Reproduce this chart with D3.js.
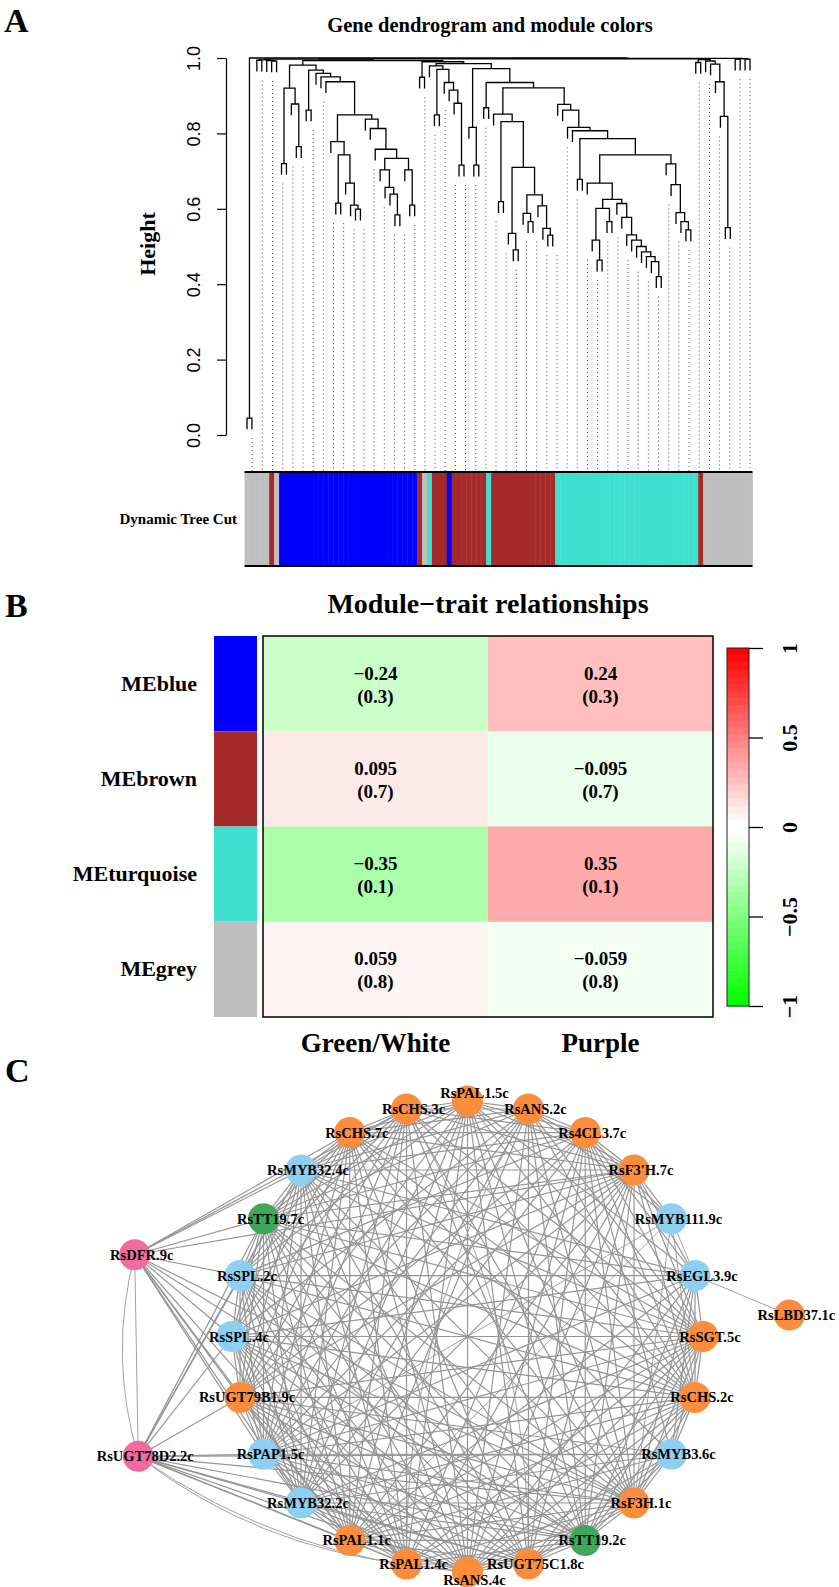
<!DOCTYPE html>
<meta charset="utf-8">
<script src="https://d3js.org/d3.v7.min.js"></script>
<style>
  body { margin: 0; background: #fff; }
  svg { display: block; }
  .serif { font-family: "Liberation Serif", "Times New Roman", serif; font-weight: bold; }
  .sans { font-family: "Liberation Sans", Arial, sans-serif; }
</style>
<body>
<div id="fig"></div>
<script>
const W = 839, H = 1587;

// ---------------- A: gene dendrogram ----------------
// internal node = [merge height, left, right]; leaf = module code
// g grey, b blue, r brown, t turquoise
const firstPair = [0.045, "g", "g"];
const topLeftLeaves = [0.995, [0.994, "g", "g"], [0.993, "g", [0.992, "r", "g"]]];
const blueBranch = [0.981,
  [0.92, [0.72, "b", "b"], [0.878, "b", [0.765, "b", "b"]]],
  [0.968, [0.862, "b", "b"],
    [0.959, "b",
      [0.95, "b",
        [0.937, "b",
          [0.849,
            [0.778, "b",
              [0.743, [0.615, "b", "b"],
                [0.668, "b", [0.61, "b", [0.599, "b", "b"]]]]],
            [0.838, "b",
              [0.813, "b",
                [0.758, "b",
                  [0.734,
                    [0.703, "b", [0.657, "b", [0.639, "b", [0.584, "b", "b"]]]],
                    [0.703, "b", [0.61, "b", "b"]]]]]]]]]]]];
const smallPair = [0.949, "r", "g"];
const mixedBranch = [0.979, "t",
  [0.97, [0.849, "r", "r"],
    [0.935, "r",
      [0.915, "b",
        [0.88, "r", [0.716, "r", "r"]]]]]];
const brownBranch = [0.851, "r",
  [0.831, [0.619, "r", "r"],
    [0.71,
      [0.535, "r", [0.491, "r", "r"]],
      [0.637,
        [0.588, "r", [0.566, "r", "r"]],
        [0.608, "r", [0.548, "r", [0.53, "r", "r"]]]]]]];
const turquoiseBranch = [0.877, "t",
  [0.862, "t",
    [0.816, "t",
      [0.807, "t",
        [0.786, [0.678, "t", "t"],
          [0.743,
            [0.668, "t",
              [0.625,
                [0.601, [0.517, "t", [0.464, "t", "t"]], [0.566, "t", "t"]],
                [0.614, "t", [0.577, "t", [0.531, "t", [0.517, "t", [0.5, "t",
                  [0.486, "t", [0.473, "t", [0.46, "t", [0.42, "t", "t"]]]]]]]]]]],
            [0.719, "t", [0.664, "t", [0.59, "t", [0.566, "t", [0.544, "t", "t"]]]]]]]]]]];
const middleBranch = [0.972,
  [0.816, "r", [0.716, "r", "r"]],
  [0.935, [0.868, "r", "t"], [0.921, brownBranch, turquoiseBranch]]];
const rightPair = [0.988, "t", "r"];
const rightChain = [0.984, "g", [0.937, "g", [0.845, "g", [0.55, "g", "g"]]]];
const lastFour = [0.998, [0.997, "g", "g"], [0.997, "g", "g"]];

const geneTree = [1.0, firstPair,
  [0.999,
    [0.998,
      [0.997, topLeftLeaves,
        [0.993, blueBranch, [0.99, smallPair, [0.985, mixedBranch, middleBranch]]]],
      [0.996, rightPair, [0.992, "g", rightChain]]],
    lastFour]];

const moduleColor = { g: "#BEBEBE", b: "#0000FF", r: "#A52A2A", t: "#40E0D0" };
const heightTicks = [0, 0.2, 0.4, 0.6, 0.8, 1.0];

// ---------------- B: module-trait heatmap ----------------
const modules = ["MEblue", "MEbrown", "MEturquoise", "MEgrey"];
const moduleFill = ["#0000FF", "#A52A2A", "#40E0D0", "#BEBEBE"];
const traits = ["Green/White", "Purple"];
const corValues = [[-0.24, 0.24], [0.095, -0.095], [-0.35, 0.35], [0.059, -0.059]];
const pValues = [[0.3, 0.3], [0.7, 0.7], [0.1, 0.1], [0.8, 0.8]];
const legendTicks = [-1, -0.5, 0, 0.5, 1];

// ---------------- C: co-expression network ----------------
const ringGenes = ["RsPAL1.5c", "RsANS.2c", "Rs4CL3.7c", "RsF3'H.7c", "RsMYB111.9c", "RsEGL3.9c",
  "RsSGT.5c", "RsCHS.2c", "RsMYB3.6c", "RsF3H.1c", "RsTT19.2c", "RsUGT75C1.8c",
  "RsANS.4c", "RsPAL1.4c", "RsPAL1.1c", "RsMYB32.2c", "RsPAP1.5c", "RsUGT79B1.9c",
  "RsSPL.4c", "RsSPL.2c", "RsTT19.7c", "RsMYB32.4c", "RsCHS.7c", "RsCHS.3c"];
const ringGroup = ["o", "o", "o", "o", "m", "m", "o", "o", "m", "o", "n", "o",
  "o", "o", "o", "m", "m", "o", "m", "m", "n", "m", "o", "o"];
// genes placed outside the ring: name, group, angle (deg, clockwise from top), radius factor
const outerGenes = [["RsDFR.9c", "p", 283.8, 1.455], ["RsUGT78D2.2c", "p", 250, 1.488], ["RsLBD37.1c", "o", 86.2, 1.37]];
const groupFill = { o: "#FC8D3C", m: "#8CCFF2", n: "#3DA85A", p: "#F26BA0" };

// neighbours of each gene (index > own index, ring order then DFR=24, UGT78D2=25, LBD37=26)
const links = [
  [0, [1,2,3,5,6,7,9,10,11,12,13,14,15,16,17,19,20,21,22,23]],
  [1, [2,3,4,6,7,9,10,11,12,14,15,16,17,18,20,21,22,23]],
  [2, [3,4,5,6,7,8,9,10,11,12,13,15,16,17,19,20,21,22,23]],
  [3, [4,5,6,7,9,10,11,12,13,14,15,16,17,18,19,20,21,22,23,24]],
  [4, [5,7,9,14,16]],
  [5, [6,7,8,9,10,12,14,16,18,19,20,21,26]],
  [6, [7,8,9,10,11,12,13,14,15,16,17,18,19,20,21,22,23]],
  [7, [8,9,10,11,12,13,14,15,16,17,18,19,20,21,22,23]],
  [8, [9,10,11,12,14,15,16,17,22,25]],
  [9, [10,11,12,13,14,15,16,17,18,19,20,21,22,23,24,25]],
  [10, [11,12,13,14,15,16,17,18,19,20,21,23,24,25]],
  [11, [12,13,14,15,16,17,18,19,20,21,22,25]],
  [12, [13,14,15,16,17,18,19,20,21,22,23,25]],
  [13, [14,15,16,17,18,19,20,21,22,23,24,25]],
  [14, [15,16,17,18,19,20,21,22,23,24,25]],
  [15, [16,17,18,19,20,21,22,23,24,25]],
  [16, [17,18,19,20,21,22,23,24,25]],
  [17, [18,19,20,21,22,23,24,25]],
  [18, [19,20,21,22,23,24,25]],
  [19, [20,21,22,23,24,25]],
  [20, [21,22,23,24,25]],
  [21, [22,23,24,25]],
  [22, [23,24]],
  [23, [24]],
  [24, [25]]
];
// second (curved) edges between the same pair
const curvedLinks = [[24, 25], [25, 13], [25, 12], [1, 13], [11, 23]];

// =====================================================
const svg = d3.select("#fig").append("svg").attr("width", W).attr("height", H);
const serif = "serif";

function panelLetter(t, x, y) {
  svg.append("text").attr("class", serif).attr("x", x).attr("y", y)
    .attr("font-size", 34).text(t);
}

// ---------- Panel A ----------
panelLetter("A", 4, 32);
svg.append("text").attr("class", serif).attr("x", 490).attr("y", 32)
  .attr("text-anchor", "middle").attr("font-size", 20.5).text("Gene dendrogram and module colors");

const hang = 0.03, guideHang = 0.053;
const leafList = [], merges = [];
let leafCount = 0;
function walk(node, parentH) {
  if (typeof node === "string") {
    leafList.push({ code: node, parentH: parentH });
    return { x: leafCount++, h: parentH - hang };
  }
  const a = walk(node[1], node[0]), b = walk(node[2], node[0]);
  merges.push({ h: node[0], a: a, b: b });
  return { x: (a.x + b.x) / 2, h: node[0] };
}
walk(geneTree, 1);

const xLeaf = d3.scaleLinear().domain([0, leafCount - 1]).range([247, 750]);
const yH = d3.scaleLinear().domain([0, 1]).range([435, 58]);
const barTop = 472, barBottom = 566;

// guide lines (50, evenly spaced)
const gGuide = svg.append("g");
d3.range(1, 51).forEach(function(k) {
  const p = k * leafCount / 50;
  const f = Math.max(1, Math.floor(p)), c = Math.min(leafCount, Math.ceil(p));
  const top = Math.min(leafList[f - 1].parentH, leafList[c - 1].parentH) - guideHang;
  gGuide.append("line")
    .attr("x1", xLeaf(p - 1)).attr("x2", xLeaf(p - 1))
    .attr("y1", yH(top)).attr("y2", barTop - 1)
    .attr("stroke", "#4d4d4d").attr("stroke-width", 1).attr("stroke-dasharray", "1,3");
});

svg.append("g").selectAll("path").data(merges).enter().append("path")
  .attr("d", function(m) {
    return "M" + xLeaf(m.a.x) + "," + yH(m.a.h) + "V" + yH(m.h) + "H" + xLeaf(m.b.x) + "V" + yH(m.b.h);
  })
  .attr("fill", "none").attr("stroke", "#000").attr("stroke-width", 1.3);

const yAxis = d3.axisLeft(yH).tickValues(heightTicks).tickFormat(d3.format(".1f"))
  .tickSize(9).tickSizeOuter(0);
const gAxis = svg.append("g").attr("transform", "translate(226,0)").call(yAxis);
gAxis.select(".domain").attr("stroke-width", 1.2);
gAxis.selectAll(".tick line").attr("stroke-width", 1.2);
gAxis.selectAll(".tick text").attr("class", "sans").attr("font-size", 18)
  .attr("transform", "rotate(-90)").attr("x", 0).attr("y", -26).attr("dy", 0)
  .attr("text-anchor", "middle").attr("fill", "#000");

svg.append("text").attr("class", serif).attr("font-size", 22)
  .attr("transform", "translate(155,244) rotate(-90)").attr("text-anchor", "middle").text("Height");

// module colour bar
const step = xLeaf(1) - xLeaf(0);
svg.append("g").selectAll("rect").data(leafList).enter().append("rect")
  .attr("x", function(d, i) { return xLeaf(i) - step / 2; })
  .attr("width", step + 0.4)
  .attr("y", barTop).attr("height", barBottom - barTop)
  .attr("fill", function(d) { return moduleColor[d.code]; });
[barTop, barBottom].forEach(function(yy) {
  svg.append("line").attr("x1", xLeaf(-0.5)).attr("x2", xLeaf(leafCount - 0.5))
    .attr("y1", yy).attr("y2", yy).attr("stroke", "#000").attr("stroke-width", 2);
});
svg.append("text").attr("class", serif).attr("x", 237).attr("y", 524)
  .attr("text-anchor", "end").attr("font-size", 15).text("Dynamic Tree Cut");

// ---------- Panel B ----------
panelLetter("B", 5, 617);
svg.append("text").attr("class", serif).attr("x", 488).attr("y", 613)
  .attr("text-anchor", "middle").attr("font-size", 28).text("Module\u2212trait relationships");

const xT = d3.scaleBand().domain(traits).range([263, 713]);
const yM = d3.scaleBand().domain(modules).range([636, 1017]);

const pal = d3.range(50).map(function(k) {
  if (k < 25) { const v = k / 24; return d3.rgb(v * 255, 255, v * 255).formatHex(); }
  const v = 1 - (k - 25) / 24; return d3.rgb(255, v * 255, v * 255).formatHex();
});
const corColor = d3.scaleQuantize().domain([-1, 1]).range(pal);

svg.append("g").selectAll("rect").data(modules).enter().append("rect")
  .attr("x", 214).attr("width", 43)
  .attr("y", function(m) { return yM(m); }).attr("height", yM.bandwidth())
  .attr("fill", function(m, i) { return moduleFill[i]; });

const cells = [];
modules.forEach(function(m, i) {
  traits.forEach(function(t, j) { cells.push({ m: m, t: t, r: corValues[i][j], p: pValues[i][j] }); });
});
const gCell = svg.append("g").selectAll("g").data(cells).enter().append("g");
gCell.append("rect")
  .attr("x", function(d) { return xT(d.t); }).attr("width", xT.bandwidth() + 0.5)
  .attr("y", function(d) { return yM(d.m); }).attr("height", yM.bandwidth() + 0.5)
  .attr("fill", function(d) { return corColor(d.r); });
const fmtR = function(v) { return (v < 0 ? "\u2212" : "") + Math.abs(v); };
gCell.append("text").attr("class", serif).attr("font-size", 19).attr("text-anchor", "middle")
  .attr("x", function(d) { return xT(d.t) + xT.bandwidth() / 2; })
  .attr("y", function(d) { return yM(d.m) + yM.bandwidth() / 2 - 4; })
  .text(function(d) { return fmtR(d.r); });
gCell.append("text").attr("class", serif).attr("font-size", 19).attr("text-anchor", "middle")
  .attr("x", function(d) { return xT(d.t) + xT.bandwidth() / 2; })
  .attr("y", function(d) { return yM(d.m) + yM.bandwidth() / 2 + 19; })
  .text(function(d) { return "(" + d.p + ")"; });

svg.append("rect").attr("x", 263).attr("y", 636).attr("width", 450).attr("height", 381)
  .attr("fill", "none").attr("stroke", "#000").attr("stroke-width", 1.5);

svg.append("g").selectAll("text").data(modules).enter().append("text")
  .attr("class", serif).attr("font-size", 22).attr("text-anchor", "end")
  .attr("x", 197).attr("y", function(m) { return yM(m) + yM.bandwidth() / 2 + 7; })
  .text(function(m) { return m; });
svg.append("g").selectAll("text").data(traits).enter().append("text")
  .attr("class", serif).attr("font-size", 27).attr("text-anchor", "middle")
  .attr("x", function(t) { return xT(t) + xT.bandwidth() / 2; }).attr("y", 1052)
  .text(function(t) { return t; });

// colour legend
const yLeg = d3.scaleLinear().domain([-1, 1]).range([1006, 648]);
const legStep = (yLeg(-1) - yLeg(1)) / pal.length;
svg.append("g").selectAll("rect").data(pal).enter().append("rect")
  .attr("x", 727).attr("width", 22)
  .attr("y", function(c, k) { return yLeg(-1) - (k + 1) * legStep; })
  .attr("height", legStep + 0.5).attr("fill", function(c) { return c; });
svg.append("rect").attr("x", 727).attr("y", 648).attr("width", 22).attr("height", 358)
  .attr("fill", "none").attr("stroke", "#222").attr("stroke-width", 1);
const legAxis = d3.axisRight(yLeg).tickValues(legendTicks).tickFormat(d3.format("")).tickSize(14);
const gLeg = svg.append("g").attr("transform", "translate(749,0)").call(legAxis);
gLeg.select(".domain").remove();
gLeg.selectAll(".tick line").attr("stroke-width", 1.3);
gLeg.selectAll(".tick text").attr("class", serif).attr("font-size", 22).attr("fill", "#000")
  .attr("transform", "rotate(-90)").attr("x", 0).attr("y", 48).attr("dy", 0)
  .attr("text-anchor", "middle");

// ---------- Panel C ----------
panelLetter("C", 5, 1082);
const cx = 467.5, cy = 1336.5, ringR = 235.5;
const angle = d3.scaleLinear().domain([0, ringGenes.length]).range([0, 2 * Math.PI]);
const nodes = ringGenes.map(function(name, i) {
  const a = angle(i);
  return { name: name, g: ringGroup[i], x: cx + ringR * Math.sin(a), y: cy - ringR * Math.cos(a) };
});
outerGenes.forEach(function(o) {
  const a = o[2] * Math.PI / 180;
  nodes.push({ name: o[0], g: o[1], x: cx + ringR * o[3] * Math.sin(a), y: cy - ringR * o[3] * Math.cos(a) });
});
const edgeList = [];
links.forEach(function(l) { l[1].forEach(function(j) { edgeList.push([l[0], j]); }); });

const gEdge = svg.append("g").attr("stroke", "#959595").attr("fill", "none");
gEdge.selectAll("line").data(edgeList).enter().append("line")
  .attr("x1", function(e) { return nodes[e[0]].x; }).attr("y1", function(e) { return nodes[e[0]].y; })
  .attr("x2", function(e) { return nodes[e[1]].x; }).attr("y2", function(e) { return nodes[e[1]].y; })
  .attr("stroke-width", function(e) { return (e[0] === 4 || e[1] === 26 || e[0] >= 24) ? 0.9 : 1.2; });
gEdge.selectAll("path").data(curvedLinks).enter().append("path")
  .attr("stroke-width", 0.9)
  .attr("d", function(e) {
    const s = nodes[e[0]], t = nodes[e[1]];
    const mx = (s.x + t.x) / 2, my = (s.y + t.y) / 2;
    const dx = t.x - s.x, dy = t.y - s.y;
    const qx = mx - dy * 0.14, qy = my + dx * 0.14;
    return "M" + s.x + "," + s.y + "Q" + qx + "," + qy + " " + t.x + "," + t.y;
  });

svg.append("g").selectAll("circle").data(nodes).enter().append("circle")
  .attr("cx", function(d) { return d.x; }).attr("cy", function(d) { return d.y; })
  .attr("r", 15.5).attr("fill", function(d) { return groupFill[d.g]; });
svg.append("g").selectAll("text").data(nodes).enter().append("text")
  .attr("class", serif).attr("font-size", 14.5).attr("text-anchor", "middle")
  .attr("x", function(d) { return d.x + 7; })
  .attr("y", function(d, i) { return d.y + 5 + (i === 0 ? -8 : i === 12 ? 8 : 0); })
  .text(function(d) { return d.name; });
</script>
</body>
